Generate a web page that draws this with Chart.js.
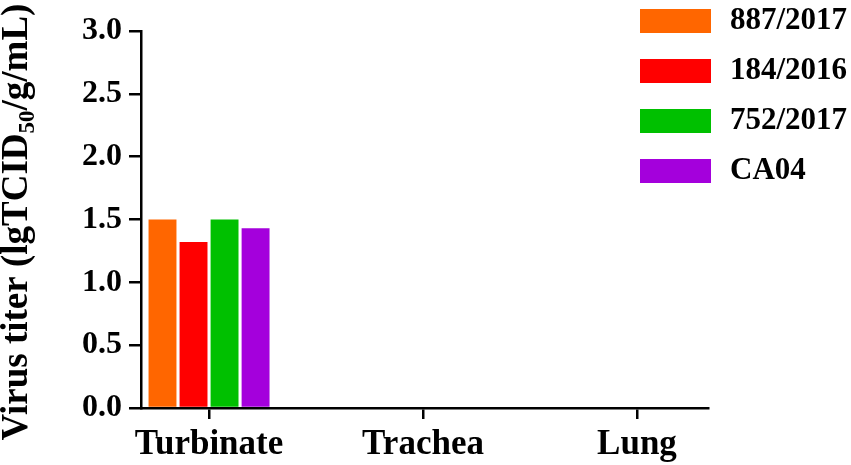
<!DOCTYPE html>
<html>
<head>
<meta charset="utf-8">
<script src="https://cdn.jsdelivr.net/npm/chart.js@4.4.0/dist/chart.umd.min.js"></script>
<style>
html, body { margin: 0; padding: 0; background: #fff; }
</style>
</head>
<body>
<canvas id="titer-chart" width="851" height="465"></canvas>
<script>
const tissues = ['Turbinate', 'Trachea', 'Lung'];
const strains = ['887/2017', '184/2016', '752/2017', 'CA04'];
const strainColors = ['#ff6600', '#ff0000', '#00c000', '#a400dc'];
const titer887 = [1.50, 0, 0];
const titer184 = [1.32, 0, 0];
const titer752 = [1.50, 0, 0];
const titerCA04 = [1.43, 0, 0];
const yTicks = [0, 0.5, 1.0, 1.5, 2.0, 2.5, 3.0];

const serif = '"Liberation Serif", "Times New Roman", serif';

// y title needs a subscript, so it is drawn by hand
const yTitlePlugin = {
    id: 'yTitle',
    afterDraw(chart) {
        const ctx = chart.ctx;
        const parts = [
            {text: 'Virus titer (lgTCID', size: 37, shift: 0},
            {text: '50', size: 23, shift: 7},
            {text: '/g/mL)', size: 37, shift: 0}
        ];
        ctx.save();
        let total = 0;
        parts.forEach(p => {
            ctx.font = 'bold ' + p.size + 'px ' + serif;
            p.w = ctx.measureText(p.text).width;
            total += p.w;
        });
        ctx.translate(0, 222);
        ctx.rotate(-Math.PI / 2);
        ctx.fillStyle = '#000';
        ctx.textBaseline = 'alphabetic';
        let x = -total / 2;
        parts.forEach(p => {
            ctx.font = 'bold ' + p.size + 'px ' + serif;
            ctx.fillText(p.text, x, 27 + p.shift);
            x += p.w;
        });
        ctx.restore();
    }
};

const sideLegendPlugin = {
    id: 'sideLegend',
    afterDraw(chart) {
        const ctx = chart.ctx;
        ctx.save();
        ctx.font = 'bold 31px ' + serif;
        ctx.textBaseline = 'middle';
        chart.data.datasets.forEach((ds, i) => {
            const top = 9 + i * 50;
            ctx.fillStyle = ds.backgroundColor;
            ctx.fillRect(640, top, 71, 24);
            ctx.fillStyle = '#000';
            ctx.fillText(ds.label, 730, top + 12);
        });
        ctx.restore();
    }
};

const seriesValues = [titer887, titer184, titer752, titerCA04];

new Chart(document.getElementById('titer-chart').getContext('2d'), {
    type: 'bar',
    data: {
        datasets: strains.map((name, s) => ({
            label: name,
            data: tissues.map((t, i) => ({x: i, y: seriesValues[s][i]})),
            backgroundColor: strainColors[s],
            borderWidth: 0,
            categoryPercentage: 0.58,
            barPercentage: 0.9
        }))
    },
    options: {
        responsive: false,
        animation: false,
        layout: {
            padding: {top: 31, right: 143, bottom: 0, left: 0}
        },
        plugins: {
            legend: {display: false},
            tooltip: {enabled: false}
        },
        scales: {
            x: {
                type: 'linear',
                min: -0.318,
                max: 2.332,
                offset: false,
                afterBuildTicks: scale => {
                    scale.ticks = tissues.map((t, i) => ({value: i}));
                },
                afterFit: scale => {
                    scale.height = 57;
                },
                ticks: {
                    callback: value => tissues[value],
                    color: '#000',
                    font: {family: serif, size: 35, weight: 'bold'},
                    padding: 5,
                    autoSkip: false,
                    maxRotation: 0
                },
                grid: {
                    offset: false,
                    drawOnChartArea: false,
                    color: '#000',
                    lineWidth: 2.5,
                    tickLength: 11
                },
                border: {color: '#000', width: 2.5}
            },
            y: {
                min: 0,
                max: 3,
                afterBuildTicks: scale => {
                    scale.ticks = yTicks.map(v => ({value: v}));
                },
                afterFit: scale => {
                    scale.width = 141;
                },
                ticks: {
                    callback: value => value.toFixed(1),
                    color: '#000',
                    font: {family: serif, size: 32, weight: 'bold'},
                    padding: 7
                },
                grid: {
                    drawOnChartArea: false,
                    color: '#000',
                    lineWidth: 2.5,
                    tickLength: 12
                },
                border: {color: '#000', width: 2.5}
            }
        }
    },
    plugins: [yTitlePlugin, sideLegendPlugin]
});
</script>
</body>
</html>
